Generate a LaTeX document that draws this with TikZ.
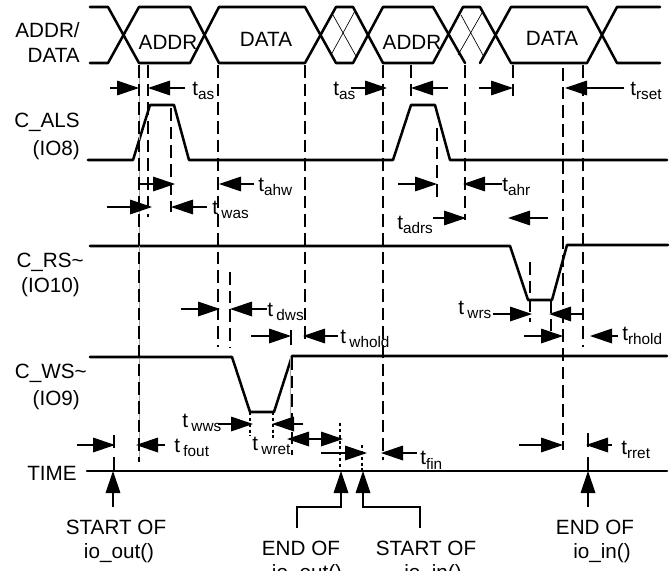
\documentclass[tikz,border=0pt]{standalone}
\usepackage{fontspec}
\setmainfont{Liberation Sans}
\usetikzlibrary{arrows.meta}

\newcommand{\tsub}[2][]{t#1\raisebox{-3.5pt}{\fontsize{11.5}{12}\selectfont #2}}

\begin{document}
\begin{tikzpicture}[
    x=0.75pt,y=-0.75pt,
    wave/.style={line width=1.9pt,line cap=round,line join=round},
    hatch/.style={line width=0.5pt},
    guide/.style={line width=1.2pt,dash pattern=on 9.5pt off 4.5pt},
    faint/.style={line width=0.4pt,gray!70},
    tick/.style={line width=1.1pt},
    fine/.style={line width=1.2pt,dash pattern=on 2.2pt off 2.2pt},
    dim/.style={line width=0.9pt,-{Triangle[length=16.5pt,width=11pt]}},
    dimboth/.style={line width=0.9pt,{Triangle[length=16.5pt,width=11pt]}-{Triangle[length=16.5pt,width=11pt]}},
    sig/.style={font=\fontsize{15.5}{17}\selectfont,inner sep=0pt},
    lab/.style={font=\fontsize{15.5}{17}\selectfont,inner sep=0pt,anchor=west},
    side/.style={font=\fontsize{15.5}{17}\selectfont,inner sep=0pt,anchor=east},
]
    \useasboundingbox (0,0) rectangle (671,571);

    \draw[wave] (90,7) -- (108,7) -- (139,63) -- (190,63) -- (219,7) -- (305,7) -- (336,63) -- (353,63) -- (383,7) -- (433,7) -- (465,63);
    \draw[wave] (90,63) -- (108,63) -- (139,7) -- (190,7) -- (219,63) -- (305,63) -- (336,7) -- (353,7) -- (383,63) -- (433,63) -- (463,7) -- (480,7) -- (511,63) -- (587,63) -- (617,7) -- (660,7);
    \draw[wave] (480,63) -- (511,7) -- (587,7) -- (617,63) -- (660,63);
    \draw[hatch] (331,55) -- (355,11);
    \draw[hatch] (333,15) -- (356,56);
    \draw[hatch] (458,55) -- (482,13);
    \draw[hatch] (461,15) -- (484,57);

    \draw[wave] (88,160) -- (133,160) -- (150,105) -- (174,105) -- (189,160) -- (393,160) -- (411,105) -- (435,105) -- (450,160) -- (667,160);
    \draw[wave] (90,246) -- (510,246) -- (528,300) -- (552,300) -- (567,245) -- (668,245);
    \draw[wave] (90,357) -- (232,357) -- (250,412) -- (274,412) -- (292,356) -- (667,356);
    \draw[wave] (87,471) -- (667,471);

    \draw[faint] (139,65) -- (139,462);
    \draw[faint] (290,357) -- (290,430);
    \draw[guide] (139,65) -- (139,462);
    \draw[guide] (148,65) -- (148,217);
    \draw[guide] (171,108) -- (171,212);
    \draw[guide] (218,65) -- (218,347);
    \draw[guide] (305,65) -- (305,344);
    \draw[guide] (383,65) -- (383,460);
    \draw[guide] (411,65) -- (411,100);
    \draw[guide] (437,128) -- (437,202);
    \draw[guide] (465,65) -- (465,220);
    \draw[guide] (513,65) -- (513,101);
    \draw[guide] (563,68) -- (563,450);
    \draw[guide] (583,65) -- (583,347);
    \draw[guide] (530,262) -- (530,322);
    \draw[guide] (551,300) -- (551,333);
    \draw[guide] (230,272) -- (230,347);
    \draw[guide] (292,357) -- (292,455);
    \draw[tick] (291,330) -- (291,345);
    \draw[tick] (114,435) -- (114,448);
    \draw[tick] (114,457) -- (114,471);
    \draw[tick] (588,433) -- (588,447);
    \draw[tick] (588,457) -- (588,471);
    \draw[fine] (340,423) -- (340,471);
    \draw[fine] (362,445) -- (362,471);
    \draw[fine] (250,412) -- (250,436);
    \draw[fine] (273,412) -- (273,438);

    \draw[dim] (110,88) -- (139,88);
    \draw[dim] (185,88) -- (148,88);
    \draw[dim] (351,88) -- (387,88);
    \draw[dim] (448,88) -- (411,88);
    \draw[dim] (479,88) -- (513,88);
    \draw[dim] (624,88) -- (565,88);
    \draw[dim] (138,184) -- (175,184);
    \draw[dim] (254,184) -- (219,184);
    \draw[dim] (398,184) -- (437,184);
    \draw[dim] (502,184) -- (463,184);
    \draw[dim] (107,207) -- (152,207);
    \draw[dim] (207,207) -- (171,207);
    \draw[dim] (433,218) -- (466,218);
    \draw[dim] (548,218) -- (508,218);
    \draw[dim] (181,309) -- (220,309);
    \draw[dim] (267,309) -- (230,309);
    \draw[dim] (251,336) -- (291,336);
    \draw[dim] (338,336) -- (303,336);
    \draw[dim] (493,314) -- (532,314);
    \draw[dim] (583,314) -- (549,314);
    \draw[dim] (524,336) -- (563,336);
    \draw[dim] (618,336) -- (590,336);
    \draw[dim] (218,424) -- (253,424);
    \draw[dim] (303,424) -- (272,424);
    \draw[dimboth] (287,439) -- (343,439);
    \draw[dim] (321,453) -- (367,453);
    \draw[dim] (417,453) -- (381,453);
    \draw[dim] (77,445) -- (115,445);
    \draw[dim] (165,445) -- (136,445);
    \draw[dim] (519,445) -- (563,445);
    \draw[dim] (612,445) -- (586,445);

    \node[side] (addrlbl) at (80,30) {ADDR/};
    \node[side] (datalbl) at (80,55) {DATA};
    \node[side] (alslbl) at (80,122) {C\_ALS};
    \node[side] (iovlbl) at (80,150) {(IO8)};
    \node[side] (rslbl) at (84,262) {C\_RS\textasciitilde};
    \node[side] (ioxlbl) at (80,287) {(IO10)};
    \node[side] (wslbl) at (87,373) {C\_WS\textasciitilde};
    \node[side] (ioilbl) at (80,400) {(IO9)};
    \node[side] (timelbl) at (77,473) {TIME};

    \node[sig] (addrone) at (168,42) {ADDR};
    \node[sig] (dataone) at (266,39) {DATA};
    \node[sig] (addrtwo) at (412,42) {ADDR};
    \node[sig] (datatwo) at (552,38) {DATA};

    \node[lab] (tasone) at (192,91) {\tsub{as}};
    \node[lab] (tastwo) at (333,91) {\tsub{as}};
    \node[lab] (trset) at (630,91) {\tsub{rset}};
    \node[lab] (tahw) at (258,187) {\tsub{ahw}};
    \node[lab] (tahr) at (502,187) {\tsub{ahr}};
    \node[lab] (twas) at (212,210) {\tsub[\,]{was}};
    \node[lab] (tadrs) at (397,225) {\tsub{adrs}};
    \node[lab] (tdws) at (267,312) {\tsub[\,]{dws}};
    \node[lab] (twhold) at (340,339) {\tsub[\,]{whold}};
    \node[lab] (twrs) at (458,310) {\tsub[\,]{wrs}};
    \node[lab] (trhold) at (622,336) {\tsub{rhold}};
    \node[lab] (twws) at (182,423) {\tsub[\,]{wws}};
    \node[lab] (twret) at (252,446) {\tsub[\,]{wret}};
    \node[lab] (tfout) at (174,448) {\tsub[\,]{fout}};
    \node[lab] (tfin) at (420,460) {\tsub{fin}};
    \node[lab] (trret) at (621,450) {\tsub{rret}};

    \coordinate (markstartout) at (113,471);
    \coordinate (markendout) at (341,471);
    \coordinate (markstartin) at (363,471);
    \coordinate (markendin) at (588,471);
    \draw[dim] (113,507) -- (markstartout);
    \draw[dim] (297,528) -- (297,507) -- (341,507) -- (markendout);
    \draw[dim] (420,528) -- (420,507) -- (363,507) -- (markstartin);
    \draw[dim] (588,507) -- (markendin);

    \node[sig] (startout) at (116,527) {START OF};
    \node[sig] (startoutfn) at (119,553) {io\_out()};
    \node[sig] (endout) at (301,548) {END OF};
    \node[sig] (endoutfn) at (307,574) {io\_out()};
    \node[sig] (startin) at (426,548) {START OF};
    \node[sig] (startinfn) at (433,574) {io\_in()};
    \node[sig] (endin) at (595,527) {END OF};
    \node[sig] (endinfn) at (602,553) {io\_in()};
\end{tikzpicture}
\end{document}
